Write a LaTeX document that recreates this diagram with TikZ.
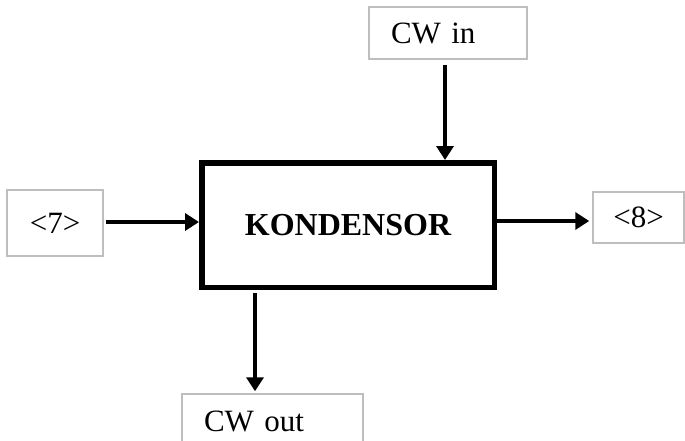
\documentclass[tikz,border=0pt]{standalone}
\usepackage{fontspec}
\setmainfont{Liberation Serif}
\usetikzlibrary{arrows.meta}
\definecolor{boxgray}{RGB}{190,190,190}
\begin{document}
\begin{tikzpicture}[x=1pt,y=-1pt,
  port/.style={draw=boxgray,line width=1.5pt,rectangle,inner sep=0pt,
    font=\fontsize{31}{36}\selectfont},
  portleft/.style={port,align=left,inner xsep=22pt},
  unit/.style={draw=black,line width=5.5pt,rectangle,inner sep=0pt,
    minimum width=292.5pt,minimum height=124.5pt,
    font=\fontsize{32}{38}\selectfont\bfseries},
  flow/.style={line width=3.5pt,-{Triangle[length=14pt,width=17pt]}}]
\useasboundingbox (0,0) rectangle (685,441);
\clip (0,0) rectangle (685,441);
\fill[white] (0,0) rectangle (685,441);

% condenser block and the four streams around it
\node[unit] (main) at (348,225) {KONDENSOR};
\node[portleft,text width=114pt,minimum height=52pt] (cwin) at (448,33) {CW in};
\node[port,minimum width=96pt,minimum height=66pt] (seven) at (55,223) {<7>};
\node[port,minimum width=91pt,minimum height=51pt] (eight) at (638.5,217.5) {<8>};
\node[portleft,text width=137pt,minimum height=55pt] (cwout) at (272.5,421.5) {CW out};

% stream connectors
\draw[flow,shorten <=5pt] ([xshift=-3pt]cwin.south) -- ([xshift=-3pt]cwin.south |- main.north);
\draw[flow,shorten <=2pt] ([yshift=1pt]seven.east) -- ([yshift=1pt]seven.east -| main.west);
\draw[flow,shorten >=3pt] ([yshift=4pt]main.east) -- ([yshift=4pt]main.east -| eight.west);
\draw[flow,shorten <=3pt,shorten >=2pt] ([xshift=56pt]main.south west) -- ([xshift=56pt]main.south west |- cwout.north);
\end{tikzpicture}
\end{document}
